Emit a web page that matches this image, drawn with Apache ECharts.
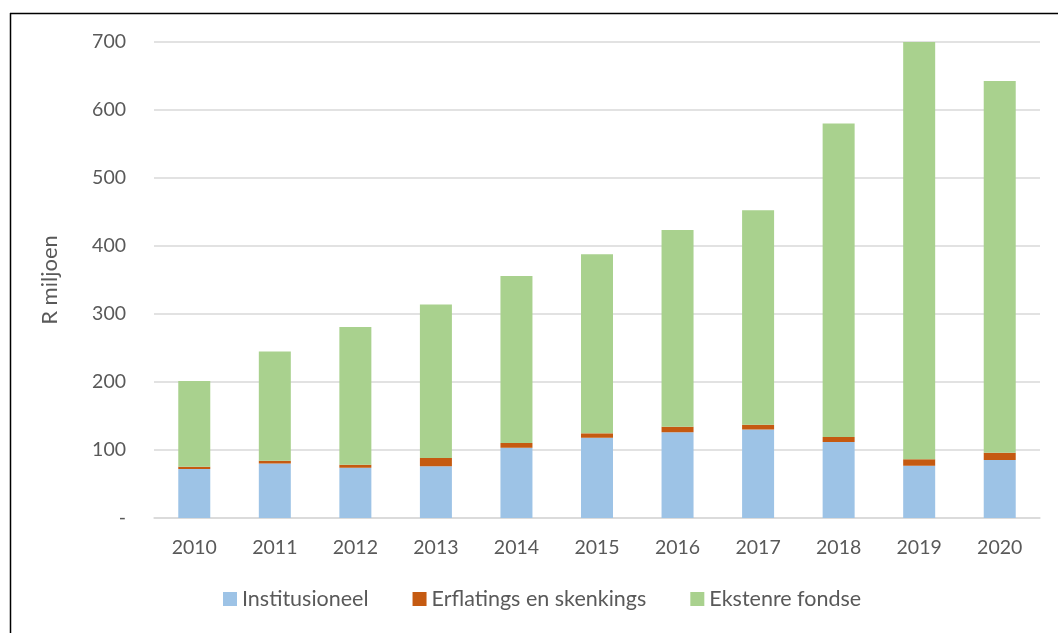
<!DOCTYPE html>
<html style="height: 100%">
<head>
<meta charset="utf-8" />
<title>R miljoen</title>
<script type="text/javascript" src="https://cdn.jsdelivr.net/npm/echarts@6/dist/echarts.min.js"></script>
</head>
<body style="height: 100%; margin: 0; background: #fff;">
<div id="container" style="width: 1058px; height: 633px;"></div>
<script type="text/javascript">
var years = ['2010', '2011', '2012', '2013', '2014', '2015', '2016', '2017', '2018', '2019', '2020'];
var institusioneel = [72, 80, 74, 76, 103.4, 118, 126, 130, 111.8, 77, 85.3];
var erflatings = [3.5, 4.3, 4.4, 12.2, 6.9, 6.5, 8.3, 7, 7.2, 9.3, 10.7];
var ekstern = [126, 160.7, 202.6, 225.8, 245.7, 263.5, 289.2, 315.5, 461, 613.7, 546.6];
var seriesNames = ['Institusioneel', 'Erflatings en skenkings', 'Ekstenre fondse'];
var colors = ['#9DC3E6', '#C55A11', '#A9D18E'];

var font = 'Lato, "Open Sans", sans-serif';
var dom = document.getElementById('container');
var myChart = echarts.init(dom);

function bar(name, data, color) {
    return {
        name: name,
        type: 'bar',
        stack: 'totaal',
        barWidth: 32,
        data: data,
        itemStyle: { color: color }
    };
}

var option = {
    animation: false,
    textStyle: { fontFamily: font },
    graphic: [
        { type: 'line', shape: { x1: 10, y1: 13.5, x2: 1058, y2: 13.5 }, style: { stroke: '#000', lineWidth: 1.5 } },
        { type: 'line', shape: { x1: 10.5, y1: 13, x2: 10.5, y2: 633 }, style: { stroke: '#000', lineWidth: 1.5 } }
    ],
    grid: { left: 154, right: 18, top: 42, bottom: 115, containLabel: false },
    legend: {
        bottom: 18,
        left: 218,
        itemWidth: 14,
        itemHeight: 14,
        itemGap: 44,
        icon: 'rect',
        textStyle: { fontSize: 21.5, color: '#595959', fontFamily: font },
        data: seriesNames
    },
    xAxis: {
        type: 'category',
        data: years,
        axisLine: { lineStyle: { color: '#D9D9D9', width: 1.5 } },
        axisTick: { show: false },
        axisLabel: { fontSize: 19.5, color: '#595959', margin: 20, fontFamily: font }
    },
    yAxis: {
        type: 'value',
        min: 0,
        max: 700,
        interval: 100,
        name: 'R miljoen',
        nameLocation: 'middle',
        nameGap: 93,
        nameTextStyle: { fontSize: 22, color: '#595959', fontFamily: font },
        axisLine: { show: false },
        axisTick: { show: false },
        splitLine: { lineStyle: { color: '#D9D9D9', width: 1.5 } },
        axisLabel: {
            fontSize: 19.5,
            color: '#595959',
            margin: 28,
            fontFamily: font,
            formatter: function (v) { return v === 0 ? '-' : String(v); }
        }
    },
    series: [
        bar(seriesNames[0], institusioneel, colors[0]),
        bar(seriesNames[1], erflatings, colors[1]),
        bar(seriesNames[2], ekstern, colors[2])
    ]
};
myChart.setOption(option, true);
</script>
</body>
</html>
